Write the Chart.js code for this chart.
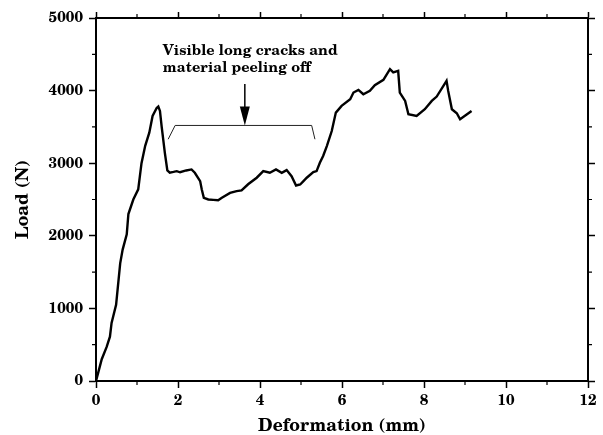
<!DOCTYPE html>
<html>
<head>
<meta charset="utf-8">
<script src="https://cdn.jsdelivr.net/npm/chart.js@4.4.1/dist/chart.umd.min.js"></script>
<style>
  html, body { margin: 0; padding: 0; background: #fff; }
  #wrap { width: 603px; height: 435px; position: relative; }
  .warm { position: absolute; left: -9999px; font-family: 'TeX Gyre Schola'; }
</style>
</head>
<body>
<div id="wrap"><canvas id="loadChart" width="603" height="435"></canvas></div>
<span class="warm" style="font-weight: bold">Load 0123456789</span>
<span class="warm">Load 0123456789</span>
<script>
// Load-deformation record of the crush test
const deformation = [
    0, 0.07, 0.14, 0.26, 0.34, 0.38, 0.49, 0.59, 0.65, 0.75,
    0.79, 0.91, 1.03, 1.11, 1.20, 1.30, 1.38, 1.48, 1.52, 1.56,
    1.60, 1.68, 1.74, 1.80, 1.89, 1.97, 2.05, 2.20, 2.33, 2.41,
    2.54, 2.58, 2.63, 2.74, 2.86, 2.98, 3.07, 3.27, 3.43, 3.55,
    3.71, 3.92, 4.08, 4.24, 4.39, 4.53, 4.65, 4.77, 4.88, 4.98,
    5.06, 5.14, 5.30, 5.38, 5.46, 5.54, 5.63, 5.75, 5.85, 5.99,
    6.20, 6.28, 6.40, 6.52, 6.68, 6.80, 7.01, 7.17, 7.25, 7.37,
    7.41, 7.54, 7.62, 7.82, 8.02, 8.19, 8.31, 8.55, 8.59, 8.68,
    8.80, 8.88, 9.16
];
const load = [
    0, 150, 300, 470, 610, 800, 1050, 1620, 1810, 2020,
    2300, 2500, 2640, 3000, 3240, 3420, 3650, 3760, 3780, 3720,
    3510, 3140, 2900, 2870, 2880, 2890, 2875, 2900, 2914, 2868,
    2753, 2638, 2523, 2500, 2495, 2490, 2523, 2590, 2615, 2625,
    2710, 2800, 2891, 2868, 2914, 2868, 2905, 2822, 2693, 2707,
    2753, 2800, 2877, 2891, 3006, 3099, 3236, 3443, 3697, 3789,
    3881, 3973, 4010, 3950, 3996, 4075, 4148, 4296, 4250, 4272,
    3973, 3858, 3674, 3651, 3743, 3858, 3918, 4134, 3996, 3743,
    3688, 3605, 3720
];
const xTicks = [0, 2, 4, 6, 8, 10, 12];
const yTicks = [0, 1000, 2000, 3000, 4000, 5000];
const noteLines = ['Visible long cracks and', 'material peeling off'];

const FONT = "'TeX Gyre Schola', 'DejaVu Serif', serif";

const points = deformation.map((d, i) => ({ x: d, y: load[i] }));

function setTicks(values) {
    return function(scale) {
        scale.ticks = values.map(v => ({ value: v }));
    };
}

const edgeGrid = {
    drawOnChartArea: false,
    drawTicks: true,
    tickLength: 7,
    tickColor: '#000',
    tickWidth: 1.5
};
const edgeBorder = { display: true, color: '#000', width: 2 };

// minor ticks between the labelled ones, plus the bracket note over the plateau
const notePlugin = {
    id: 'notePlugin',
    afterDraw(chart) {
        const ctx = chart.ctx;
        const x = chart.scales.x;
        const y = chart.scales.y;
        const area = chart.chartArea;

        ctx.save();
        ctx.strokeStyle = '#000';
        ctx.lineWidth = 1.2;
        ctx.beginPath();
        for (let v = 1; v < 12; v += 2) {
            const px = x.getPixelForValue(v);
            ctx.moveTo(px, area.bottom);
            ctx.lineTo(px, area.bottom + 4);
            ctx.moveTo(px, area.top);
            ctx.lineTo(px, area.top - 4);
        }
        for (let v = 500; v < 5000; v += 1000) {
            const py = y.getPixelForValue(v);
            ctx.moveTo(area.left, py);
            ctx.lineTo(area.left - 4, py);
            ctx.moveTo(area.right, py);
            ctx.lineTo(area.right + 4, py);
        }
        ctx.stroke();

        // bracket
        ctx.lineWidth = 1;
        ctx.strokeStyle = '#222';
        ctx.beginPath();
        ctx.moveTo(x.getPixelForValue(1.76), y.getPixelForValue(3330));
        ctx.lineTo(x.getPixelForValue(1.93), y.getPixelForValue(3520));
        ctx.lineTo(x.getPixelForValue(5.26), y.getPixelForValue(3520));
        ctx.lineTo(x.getPixelForValue(5.34), y.getPixelForValue(3330));
        ctx.stroke();

        // arrow
        const ax = x.getPixelForValue(3.63);
        const tip = y.getPixelForValue(3520);
        ctx.strokeStyle = '#000';
        ctx.lineWidth = 1.5;
        ctx.beginPath();
        ctx.moveTo(ax, y.getPixelForValue(4090));
        ctx.lineTo(ax, tip - 16);
        ctx.stroke();
        ctx.fillStyle = '#000';
        ctx.beginPath();
        ctx.moveTo(ax - 5, tip - 19);
        ctx.lineTo(ax + 5, tip - 19);
        ctx.lineTo(ax, tip);
        ctx.closePath();
        ctx.fill();

        // note text
        ctx.font = 'bold 14.5px ' + FONT;
        ctx.textAlign = 'left';
        ctx.textBaseline = 'alphabetic';
        const tx = x.getPixelForValue(1.63);
        ctx.fillText(noteLines[0], tx, y.getPixelForValue(4496));
        ctx.fillText(noteLines[1], tx, y.getPixelForValue(4254));
        ctx.restore();
    }
};

function drawChart() {
    new Chart(document.getElementById('loadChart'), {
        type: 'line',
        data: {
            datasets: [{
                label: 'Load',
                data: points,
                borderColor: '#000',
                borderWidth: 2.4,
                pointRadius: 0,
                tension: 0,
                fill: false
            }]
        },
        options: {
            responsive: false,
            animation: false,
            layout: { padding: { top: 18, right: 15, left: 0, bottom: 0 } },
            plugins: {
                legend: { display: false },
                tooltip: { enabled: false }
            },
            scales: {
                x: {
                    type: 'linear',
                    position: 'bottom',
                    min: 0,
                    max: 12,
                    afterBuildTicks: setTicks(xTicks),
                    afterFit: scale => { scale.height = 54; },
                    grid: edgeGrid,
                    border: edgeBorder,
                    ticks: {
                        color: '#000',
                        padding: 4,
                        maxRotation: 0,
                        callback: v => String(v),
                        font: { family: FONT, size: 15, weight: 'bold' }
                    },
                    title: {
                        display: true,
                        text: 'Deformation (mm)',
                        color: '#000',
                        padding: { top: 0, bottom: 0 },
                        font: { family: FONT, size: 17.5, weight: 'bold', lineHeight: 1 }
                    }
                },
                xTop: {
                    type: 'linear',
                    position: 'top',
                    min: 0,
                    max: 12,
                    afterBuildTicks: setTicks(xTicks),
                    afterFit: scale => { scale.height = 0; },
                    grid: Object.assign({}, edgeGrid, { tickLength: 6 }),
                    border: edgeBorder,
                    ticks: { display: false }
                },
                y: {
                    type: 'linear',
                    position: 'left',
                    min: 0,
                    max: 5000,
                    afterBuildTicks: setTicks(yTicks),
                    afterFit: scale => { scale.width = 96; },
                    grid: edgeGrid,
                    border: edgeBorder,
                    ticks: {
                        color: '#000',
                        padding: 6,
                        callback: v => String(v),
                        font: { family: FONT, size: 15, weight: 'bold' }
                    },
                    title: {
                        display: true,
                        text: 'Load (N)',
                        color: '#000',
                        padding: { top: 14, bottom: 0 },
                        font: { family: FONT, size: 17.5, weight: 'bold', lineHeight: 1 }
                    }
                },
                yRight: {
                    type: 'linear',
                    position: 'right',
                    min: 0,
                    max: 5000,
                    afterBuildTicks: setTicks(yTicks),
                    afterFit: scale => { scale.width = 0; },
                    grid: edgeGrid,
                    border: edgeBorder,
                    ticks: { display: false }
                }
            }
        },
        plugins: [notePlugin]
    });
}

Promise.all([
    document.fonts.load("bold 15px 'TeX Gyre Schola'"),
    document.fonts.load("15px 'TeX Gyre Schola'")
]).then(drawChart, drawChart);
</script>
</body>
</html>
